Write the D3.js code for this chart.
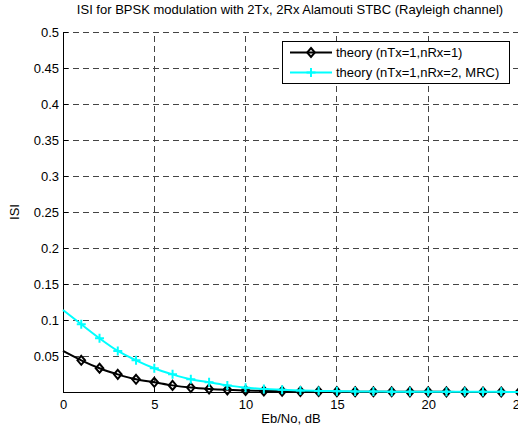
<!DOCTYPE html>
<html><head><meta charset="utf-8">
<script src="https://cdn.jsdelivr.net/npm/d3@7"></script>
<style>
html,body{margin:0;padding:0;background:#fff;overflow:hidden}
text{font-family:"Liberation Sans",Arial,sans-serif;fill:#000}
</style></head>
<body>
<svg id="chart" width="518" height="425"></svg>
<script>
// Data
const ebno = d3.range(0, 26); // Eb/No in dB
const theory1 = [0.057,0.044,0.033,0.0245,0.0176,0.0135,0.0092,0.0062,0.0043,0.0030,0.0021,0.0015,0.0011,0.0008,0.0006,0.0005,0.0004,0.0003,0.0003,0.0002,0.0002,0.0002,0.0001,0.0001,0.0001,0.0001];
const theory2 = [0.114,0.094,0.0745,0.057,0.044,0.033,0.0245,0.0176,0.0135,0.0092,0.0060,0.0043,0.0030,0.0021,0.0015,0.0011,0.0008,0.0006,0.0005,0.0004,0.0003,0.0003,0.0002,0.0002,0.0002,0.0001];
const xTicks = [0,5,10,15,20,25];
const yTicks = [0.05,0.1,0.15,0.2,0.25,0.3,0.35,0.4,0.45,0.5];
const seriesNames = ["theory (nTx=1,nRx=1)", "theory (nTx=1,nRx=2, MRC)"];
const title = "ISI for BPSK modulation with 2Tx, 2Rx Alamouti STBC (Rayleigh channel)";
const xLabel = "Eb/No, dB";
const yLabel = "ISI";

const FS = 13;
const svg = d3.select("#chart");
const L = 63, R = 519.5, T = 32, B = 392;
const x = d3.scaleLinear().domain([0,25]).range([L,R]);
const y = d3.scaleLinear().domain([0,0.5]).range([B,T]);

// grid
const g = svg.append("g");
g.selectAll(".gx").data(xTicks.filter(d=>d>0)).enter().append("line")
  .attr("x1",d=>x(d)).attr("x2",d=>x(d)).attr("y1",B).attr("y2",T)
  .attr("stroke","#444").attr("stroke-width",1).attr("stroke-dasharray","6,4").attr("shape-rendering","crispEdges");
g.selectAll(".gy").data(yTicks).enter().append("line")
  .attr("x1",L).attr("x2",R).attr("y1",d=>y(d)).attr("y2",d=>y(d))
  .attr("stroke","#444").attr("stroke-width",1).attr("stroke-dasharray","6,4").attr("shape-rendering","crispEdges");

// axes
const xAxis = d3.axisBottom(x).tickValues(xTicks).tickSize(-5).tickPadding(8).tickFormat(d3.format("d"));
const yAxis = d3.axisLeft(y).tickValues(yTicks).tickSize(-5).tickPadding(4).tickFormat(d=>String(d));
const gx = svg.append("g").attr("transform",`translate(0,${B})`).call(xAxis);
const gy = svg.append("g").attr("transform",`translate(${L},0)`).call(yAxis);
[gx,gy].forEach(a=>{
  a.selectAll("path").attr("stroke","#000").attr("stroke-width",1).attr("shape-rendering","crispEdges");
  a.selectAll("line").attr("stroke","#000").attr("shape-rendering","crispEdges");
  a.selectAll("text").attr("font-size",FS).attr("font-family","Liberation Sans, Arial, sans-serif").attr("fill","#000");
});

// lines
const line = d3.line().x((d,i)=>x(ebno[i])).y(d=>y(d)).curve(d3.curveMonotoneX);
svg.append("path").datum(theory1).attr("d",line).attr("fill","none").attr("stroke","#000").attr("stroke-width",2);
const diamond = (cx,cy,s)=>`M${cx},${cy-s}L${cx+s*0.85},${cy}L${cx},${cy+s}L${cx-s*0.85},${cy}Z`;
svg.append("g").selectAll("path").data(theory1.slice(1)).enter().append("path")
  .attr("d",(d,i)=>diamond(x(ebno[i+1]),y(d),4.5)).attr("fill","none").attr("stroke","#000").attr("stroke-width",2);

svg.append("path").datum(theory2).attr("d",line).attr("fill","none").attr("stroke","#00ffff").attr("stroke-width",2);
const plus = (cx,cy,s)=>`M${cx-s},${cy}L${cx+s},${cy}M${cx},${cy-s}L${cx},${cy+s}`;
svg.append("g").selectAll("path").data(theory2.slice(1)).enter().append("path")
  .attr("d",(d,i)=>plus(x(ebno[i+1]),y(d),4.5)).attr("fill","none").attr("stroke","#00ffff").attr("stroke-width",2);

// legend
const lg = svg.append("g");
lg.append("rect").attr("x",282.5).attr("y",41.5).attr("width",227).attr("height",42)
  .attr("fill","#fff").attr("stroke","#000").attr("stroke-width",1);
const rows = [{c:"#000",m:"d",yy:52.5},{c:"#00ffff",m:"p",yy:72.5}];
rows.forEach((r,i)=>{
  lg.append("line").attr("x1",290).attr("x2",332).attr("y1",r.yy).attr("y2",r.yy).attr("stroke",r.c).attr("stroke-width",2);
  lg.append("path").attr("d", r.m==="d"?diamond(311,r.yy,4.5):plus(311,r.yy,4.5)).attr("fill","none").attr("stroke",r.c).attr("stroke-width",2);
  lg.append("text").attr("x",336).attr("y",r.yy).attr("dy","0.35em").attr("font-size",FS).text(seriesNames[i]);
});

// titles
svg.append("text").attr("x",290).attr("y",14).attr("text-anchor","middle").attr("font-size",FS).text(title);
svg.append("text").attr("x",291).attr("y",423).attr("text-anchor","middle").attr("font-size",FS).text(xLabel);
svg.append("text").attr("transform","translate(19,212) rotate(-90)").attr("text-anchor","middle").attr("font-size",FS).text(yLabel);
</script>
</body></html>
